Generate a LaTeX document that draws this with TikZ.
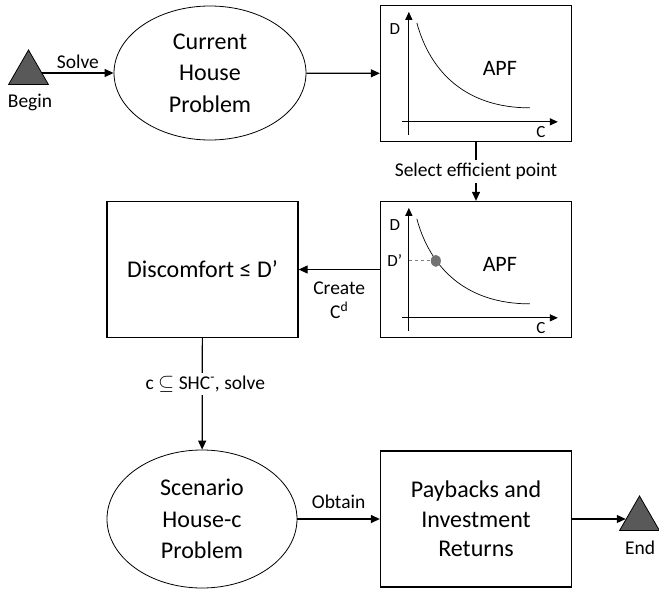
\documentclass[tikz,border=0pt]{standalone}
\usepackage{fontspec}
\setmainfont{Carlito}
\usetikzlibrary{arrows.meta,shapes.geometric}

\tikzset{
  stepbox/.style={rectangle, draw, line width=1.3pt, minimum width=191pt, minimum height=136pt, align=center, font=\fontsize{24}{29.5}\selectfont},
  problem/.style={ellipse, draw, line width=0.8pt, inner sep=0pt, align=center, font=\fontsize{24}{31.5}\selectfont},
  terminal/.style={regular polygon, regular polygon sides=3, draw, line width=0.8pt, fill=black!65, minimum size=46pt, inner sep=0pt},
  smalltext/.style={font=\fontsize{19.5}{24}\selectfont, inner sep=2pt},
  axistext/.style={font=\fontsize{17}{20}\selectfont, inner sep=0pt, anchor=base},
  flow/.style={-{Triangle[length=9pt,width=8pt]}, line width=1.2pt},
  axis/.style={-{Triangle[length=8pt,width=7pt]}, line width=1.2pt},
}

% axes, front and labels inside one APF box
\newcommand{\apfplot}[1]{%
  \draw[axis] (29,130) -- (29,7);
  \draw[axis] (22,117) -- (178,117);
  \draw[line width=0.7pt] (37,18) .. controls (50,66) and (85,103) .. (150,103);
  \node[axistext] (#1-d) at (15,30) {D};
  \node[axistext] (#1-c) at (161,133) {C};
  \node[axistext, font=\fontsize{22}{26}\selectfont] (#1-apf) at (120,71) {APF};
}

\begin{document}
\begin{tikzpicture}[x=1pt, y=-1pt]
\useasboundingbox (0,0) rectangle (659,589);

\node[terminal] (begin) at (28.5,73) {};
\node[smalltext, anchor=base] (beginlbl) at (30,107) {Begin};
\node[problem, minimum width=192pt, minimum height=134pt] (cur) at (210,73) {Current\\House\\Problem};
\node[stepbox] (apf1) at (476,73.5) {};
\node[stepbox] (apf2) at (476,269.5) {};
\node[stepbox] (disc) at (202.5,269.5) {Discomfort ≤ D’};
\node[problem, minimum width=190pt, minimum height=138pt] (scen) at (202,519) {Scenario\\House-c\\Problem};
\node[stepbox] (payb) at (476,519) {Paybacks and\\Investment\\Returns};
\node[terminal] (endt) at (639.5,519) {};
\node[smalltext, anchor=base] (endlbl) at (640,554) {End};

\begin{scope}[shift={(apf1.north west)}]
  \apfplot{front}
\end{scope}
\begin{scope}[shift={(apf2.north west)}]
  \apfplot{pick}
  \node[axistext] (pick-dd) at (15,66) {D’};
  \node[ellipse, fill=black!55, minimum width=10pt, minimum height=12pt, inner sep=0pt] (pickpt) at (56,60) {};
  \draw[dashed, black!50, line width=0.8pt] (29,60) -- (pickpt);
\end{scope}

\path[flow]
(begin) edge node[smalltext, above=2pt] {Solve} (cur)
(cur) edge (apf1)
(apf1) edge node[smalltext, fill=white, inner sep=3pt] {Select efficient point} (apf2)
(apf2) edge node[smalltext, below=10pt, align=center] {Create\\C\textsuperscript{d}} (disc)
(disc) edge node[smalltext, pos=0.41, fill=white, inner sep=3pt, xshift=3pt] {c $\subseteq$ SHC\textsuperscript{-}, solve} (scen)
(scen) edge node[smalltext, above=8pt] {Obtain} (payb)
(payb) edge (endt)
;
\end{tikzpicture}
\end{document}
